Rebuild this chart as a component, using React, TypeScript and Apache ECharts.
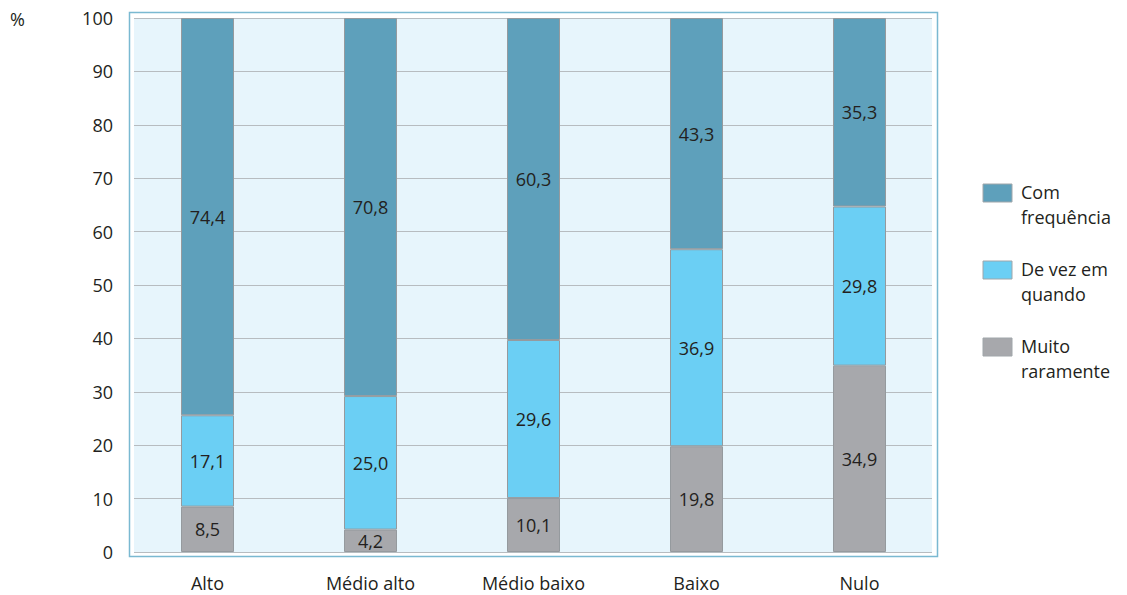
import React, { useEffect, useRef } from "react";
import * as echarts from "echarts";

const categories = ["Alto", "Médio alto", "Médio baixo", "Baixo", "Nulo"];
const muitoRaramente = [8.5, 4.2, 10.1, 19.8, 34.9];
const deVezEmQuando = [17.1, 25.0, 29.6, 36.9, 29.8];
const comFrequencia = [74.4, 70.8, 60.3, 43.3, 35.3];
const seriesNames = ["Com\nfrequência", "De vez em\nquando", "Muito\nraramente"];
const seriesColors = ["#5ea0bb", "#6bcff4", "#a7a8ac"];

const FONT = "'Open Sans', 'Noto Sans', sans-serif";
const TEXT = "#231f20";
const FS = 18;

const fmt = (v: number) => v.toFixed(1).replace(".", ",");

export default function App() {
  const ref = useRef<HTMLDivElement>(null);

  useEffect(() => {
    if (!ref.current) return;
    const chart = echarts.init(ref.current, undefined, { renderer: "svg" });

    const barSeries = (name: string, data: number[], color: string) => ({
      name,
      type: "bar",
      stack: "total",
      xAxisIndex: 1,
      yAxisIndex: 1,
      barWidth: 53,
      data,
      itemStyle: { color, borderColor: "#959a9e", borderWidth: 1 },
      label: {
        show: true,
        position: "inside",
        formatter: (p: any) => fmt(p.value),
        color: TEXT,
        fontFamily: FONT,
        fontSize: FS,
      },
    });

    const legendGraphics: any[] = [];
    seriesNames.forEach((n, i) => {
      const y = 184 + i * 77;
      legendGraphics.push({
        type: "rect",
        shape: { x: 983, y, width: 29, height: 18 },
        style: { fill: seriesColors[i], stroke: "#a0a6aa", lineWidth: 1 },
      });
      legendGraphics.push({
        type: "text",
        x: 1021,
        y: y - 5,
        style: {
          text: n,
          fill: TEXT,
          font: `${FS}px ${FONT}`,
          lineHeight: 25,
          textVerticalAlign: "top",
        },
      });
    });

    chart.setOption({
      animation: false,
      grid: [
        {
          left: 134,
          right: 1127 - 932,
          top: 18,
          bottom: 595 - 552,
          show: true,
          backgroundColor: "#e7f5fc",
          borderWidth: 0,
        },
        {
          left: 126,
          right: 1127 - 941,
          top: 18,
          bottom: 595 - 552,
        },
      ],
      xAxis: [
        {
          gridIndex: 0,
          type: "category",
          data: categories,
          show: false,
        },
        {
          gridIndex: 1,
          type: "category",
          data: categories,
          axisLine: { show: false },
          axisTick: { show: false },
          axisLabel: {
            color: TEXT,
            fontFamily: FONT,
            fontSize: FS,
            margin: 22,
          },
        },
      ],
      yAxis: [
        {
          gridIndex: 0,
          type: "value",
          min: 0,
          max: 100,
          interval: 10,
          axisLine: { show: false },
          axisTick: { show: false },
          axisLabel: {
            color: TEXT,
            fontFamily: FONT,
            fontSize: FS,
            margin: 21,
          },
          splitLine: { lineStyle: { color: "#b7bcc0", width: 1 } },
        },
        {
          gridIndex: 1,
          type: "value",
          min: 0,
          max: 100,
          interval: 10,
          show: false,
          splitLine: { show: false },
        },
      ],
      series: [
        barSeries(seriesNames[2], muitoRaramente, seriesColors[2]),
        barSeries(seriesNames[1], deVezEmQuando, seriesColors[1]),
        barSeries(seriesNames[0], comFrequencia, seriesColors[0]),
      ],
      graphic: [
        {
          type: "rect",
          shape: { x: 129.5, y: 12.5, width: 808, height: 544 },
          style: { fill: "none", stroke: "#7ab9d1", lineWidth: 1.5 },
          z: 10,
        },
        {
          type: "text",
          x: 10,
          y: 10,
          style: { text: "%", fill: TEXT, font: `${FS}px ${FONT}` },
        },
        ...legendGraphics,
      ],
    });

    return () => chart.dispose();
  }, []);

  return (
    <div
      ref={ref}
      style={{ position: "absolute", left: 0, top: 0, width: 1127, height: 595 }}
    />
  );
}
